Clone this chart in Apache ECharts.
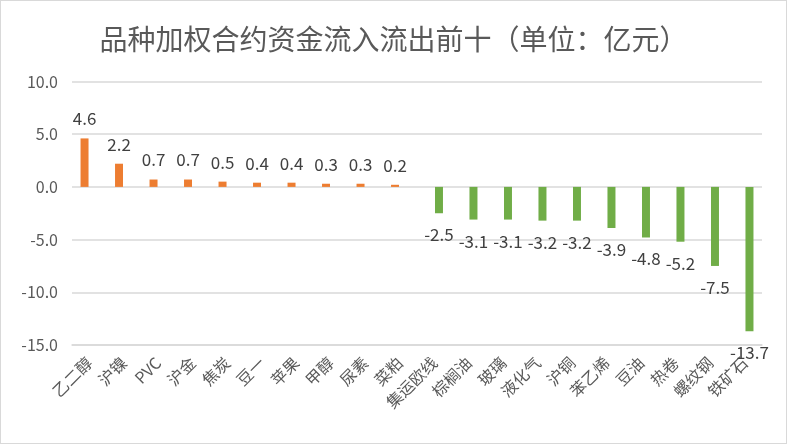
<!DOCTYPE html>
<html>
<head>
<meta charset="utf-8">
<script src="https://cdn.jsdelivr.net/npm/echarts@6/dist/echarts.min.js"></script>
<style>
html,body{margin:0;padding:0;background:#fff;}
#c{width:787px;height:444px;box-sizing:border-box;border:1px solid #d9d9d9;}
</style>
</head>
<body>
<div id="c"></div>
<script>
const titleText = '品种加权合约资金流入流出前十（单位：亿元）';
const categories = ['乙二醇','沪镍','PVC','沪金','焦炭','豆一','苹果','甲醇','尿素','菜粕','集运欧线','棕榈油','玻璃','液化气','沪铜','苯乙烯','豆油','热卷','螺纹钢','铁矿石'];
const inflow = [4.6, 2.2, 0.7, 0.7, 0.5, 0.4, 0.4, 0.3, 0.3, 0.2, '-', '-', '-', '-', '-', '-', '-', '-', '-', '-'];
const outflow = ['-', '-', '-', '-', '-', '-', '-', '-', '-', '-', -2.5, -3.1, -3.1, -3.2, -3.2, -3.9, -4.8, -5.2, -7.5, -13.7];
const yMin = -15, yMax = 10, yStep = 5;

const font = '"Noto Sans CJK SC", "Noto Sans", sans-serif';
const chart = echarts.init(document.getElementById('c'));
chart.setOption({
  animation: false,
  backgroundColor: '#fff',
  textStyle: { fontFamily: font },
  title: {
    text: titleText,
    left: 'center',
    top: 19,
    textStyle: { fontSize: 28, fontWeight: 'normal', color: '#595959', fontFamily: font }
  },
  grid: { left: 71, right: 24, top: 80.5, bottom: 98, containLabel: false },
  xAxis: {
    type: 'category',
    data: categories,
    position: 'bottom',
    axisLine: { show: true, onZero: false, lineStyle: { color: '#d9d9d9', width: 1.5 } },
    axisTick: { show: false },
    axisLabel: { interval: 0, rotate: 45, margin: 15, fontSize: 16, color: '#595959', fontFamily: font }
  },
  yAxis: {
    type: 'value',
    min: yMin, max: yMax, interval: yStep,
    axisLine: { show: false },
    axisTick: { show: false },
    splitLine: { lineStyle: { color: '#d9d9d9', width: 1.5 } },
    axisLabel: { margin: 14, fontSize: 16, color: '#595959', formatter: v => v.toFixed(1) }
  },
  series: [
    {
      type: 'bar', name: '流入', data: inflow, barWidth: 8, barGap: '18%',
      itemStyle: { color: '#ED7D31' },
      label: { show: true, position: 'top', distance: 11, fontSize: 17, color: '#404040', formatter: p => Number(p.value).toFixed(1) }
    },
    {
      type: 'bar', name: '流出', data: outflow, barWidth: 8,
      itemStyle: { color: '#70AD47' },
      label: { show: true, position: 'bottom', distance: 13, fontSize: 17, color: '#404040', formatter: p => Number(p.value).toFixed(1) }
    }
  ]
});
</script>
</body>
</html>
